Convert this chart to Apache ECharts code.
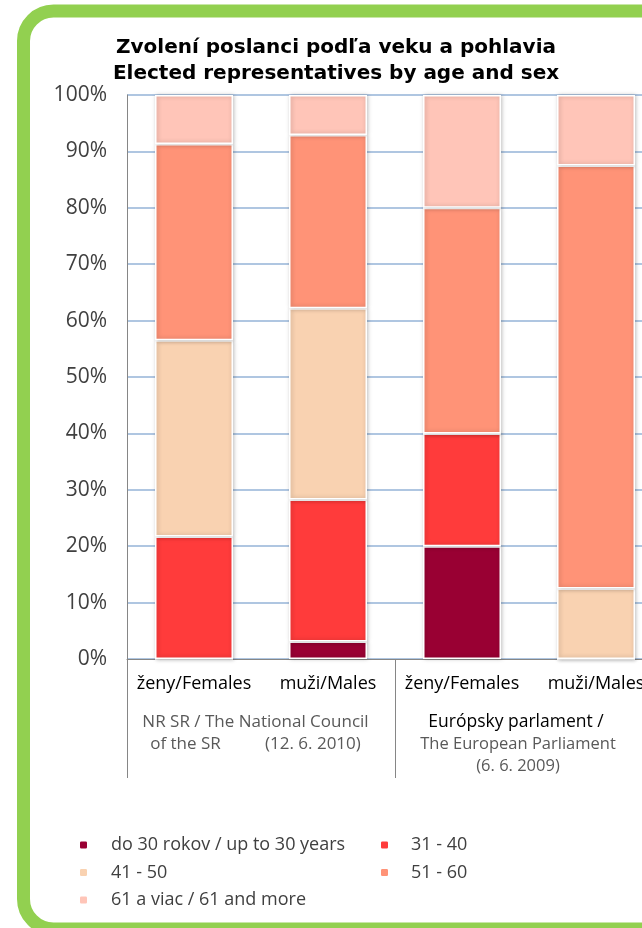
<!DOCTYPE html>
<html><head><meta charset="utf-8">
<script src="https://cdn.jsdelivr.net/npm/echarts@6/dist/echarts.min.js"></script>
<style>html,body{margin:0;padding:0;background:#fff;overflow:hidden;width:642px;height:928px}#c{width:663px;height:928px}</style>
</head><body><div id="c"></div>
<script>
const categories = ['ženy/Females', 'muži/Males', 'ženy/Females', 'muži/Males'];
const groups = ['NR SR', 'EP'];
const yTicks = ['0%','10%','20%','30%','40%','50%','60%','70%','80%','90%','100%'];
const seriesNames = ['do 30 rokov / up to 30 years', '31 - 40', '41 - 50', '51 - 60', '61 a viac / 61 and more'];
const age30 = [0, 3.1, 20, 0];
const age31_40 = [21.7, 25.2, 20, 0];
const age41_50 = [34.8, 33.9, 0, 12.5];
const age51_60 = [34.8, 30.7, 40, 75];
const age61 = [8.7, 7.1, 20, 12.5];
const colors = ['#990033', '#FF3B3B', '#F9D2B1', '#FF9377', '#FFC5B8'];

const values = [age30, age31_40, age41_50, age51_60, age61];
const chart = echarts.init(document.getElementById('c'), null, {renderer: 'canvas'});
const font = 'Open Sans';
const series = seriesNames.map((n, i) => ({
  name: n, type: 'bar', stack: 'all', barWidth: 78,
  data: values[i],
  itemStyle: {color: colors[i], borderColor: '#fff', borderWidth: 1.5,
    shadowColor: 'rgba(0,0,0,0.25)', shadowBlur: 4, shadowOffsetX: 1, shadowOffsetY: 0}
}));
const legendText = {fontSize: 18, color: '#404040', lineHeight: 18, fontFamily: font};
chart.setOption({
  animation: false,
  color: colors,
  textStyle: {fontFamily: font},
  title: {
    text: 'Zvolení poslanci podľa veku a pohlavia\nElected representatives by age and sex',
    left: 331, top: 30, textAlign: 'center',
    textStyle: {fontFamily: 'DejaVu Sans', fontWeight: 'bold', fontSize: 20, lineHeight: 26, color: '#000'}
  },
  graphic: [{type: 'rect', z: -1, shape: {x: 23.5, y: 11, width: 720, height: 918, r: 30},
    style: {fill: 'none', stroke: '#92D050', lineWidth: 13}}],
  legend: [
    {orient: 'vertical', left: 73, top: 831, itemWidth: 9, itemHeight: 9, itemGap: 9.5,
      data: [seriesNames[0], seriesNames[2], seriesNames[4]],
      textStyle: Object.assign({padding: [0, 0, 0, 18]}, legendText)},
    {orient: 'vertical', left: 374, top: 831, itemWidth: 9, itemHeight: 9, itemGap: 9.5,
      data: [seriesNames[1], seriesNames[3]],
      textStyle: Object.assign({padding: [0, 0, 0, 17]}, legendText)}
  ],
  grid: {left: 127, top: 95, right: 0, bottom: 269, containLabel: false},
  xAxis: [
    {type: 'category', data: categories, position: 'bottom',
      axisLine: {lineStyle: {color: '#868686', width: 1}}, axisTick: {show: false},
      axisLabel: {color: '#000', fontSize: 18, margin: 16, fontFamily: font, interval: 0, hideOverlap: false}},
    {type: 'category', data: groups, position: 'bottom',
      axisLine: {show: false},
      axisTick: {show: true, length: 119, interval: 0, lineStyle: {color: '#868686'}},
      axisLabel: {margin: 52, interval: 0, hideOverlap: false, fontFamily: font, fontSize: 17, color: '#595959', lineHeight: 22,
        formatter: v => v === 'NR SR'
          ? '{a|NR SR / The National Council}\n{a|of the SR          (12. 6. 2010)}'
          : '{k|Európsky parlament /}\n{g|The European Parliament}\n{g|(6. 6. 2009)}',
        rich: {
          a: {fontSize: 17, color: '#595959', fontFamily: font, lineHeight: 22, padding: [0, 11, 0, 0]},
          g: {fontSize: 16.5, color: '#595959', fontFamily: font, lineHeight: 22, padding: [0, 22, 0, 0]},
          k: {fontSize: 17.5, color: '#000', fontFamily: font, lineHeight: 22, padding: [0, 26, 0, 0]}
        }}}
  ],
  yAxis: {type: 'value', min: 0, max: 100, interval: 10,
    axisLine: {show: true, lineStyle: {color: '#868686'}}, axisTick: {show: false},
    splitLine: {lineStyle: {color: '#95B3D7', width: 1.5}},
    axisLabel: {formatter: v => yTicks[Math.round(v / 10)], color: '#404040', fontSize: 21, margin: 20, fontFamily: font}},
  series: series
});
</script></body></html>
